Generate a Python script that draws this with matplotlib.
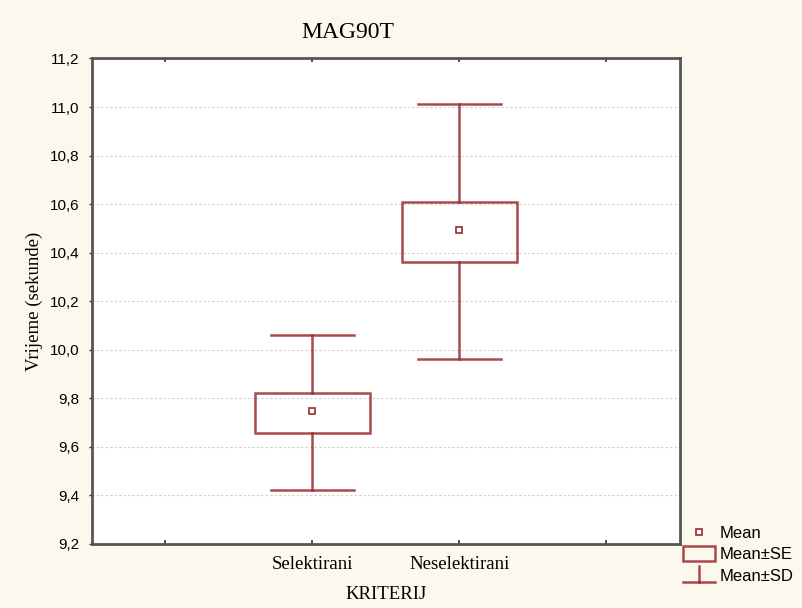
import matplotlib
matplotlib.use("Agg")
import matplotlib.pyplot as plt
from matplotlib.patches import Rectangle
from matplotlib.lines import Line2D
from matplotlib.legend_handler import HandlerBase

categories = ["Selektirani", "Neselektirani"]
means = [9.749, 10.494]
se_low = [9.659, 10.362]
se_high = [9.823, 10.609]
sd_low = [9.424, 9.963]
sd_high = [10.062, 11.013]
yticks = [9.2, 9.4, 9.6, 9.8, 10.0, 10.2, 10.4, 10.6, 10.8, 11.0, 11.2]
ytick_labels = ["9,2", "9,4", "9,6", "9,8", "10,0", "10,2", "10,4", "10,6", "10,8", "11,0", "11,2"]

RED = "#9a2a2e"
BG = "#fdf8ee"

fig = plt.figure(figsize=(8.02, 6.08), dpi=100, facecolor=BG)
ax = fig.add_axes([0.1147, 0.1053, 0.733, 0.7985])
ax.set_facecolor("white")

positions = [1, 2]
box_hw = 0.39
cap_hw = 0.28
for x, m, sl, sh, dl, dh in zip(positions, means, se_low, se_high, sd_low, sd_high):
    ax.add_patch(Rectangle((x - box_hw, sl), 2 * box_hw, sh - sl, facecolor="none",
                           edgecolor=RED, lw=1.8, alpha=0.85, zorder=3))
    ax.plot([x, x], [sh, dh], color=RED, lw=1.8, alpha=0.85, zorder=3)
    ax.plot([x, x], [dl, sl], color=RED, lw=1.8, alpha=0.85, zorder=3)
    ax.plot([x - cap_hw, x + cap_hw], [dh, dh], color=RED, lw=1.8, alpha=0.85, zorder=3)
    ax.plot([x - cap_hw, x + cap_hw], [dl, dl], color=RED, lw=1.8, alpha=0.85, zorder=3)
    ax.plot([x], [m], marker="s", ms=5, mfc="white", mec=RED, mew=1.2, ls="none", zorder=4)

ax.set_xlim(-0.5, 3.5)
ax.set_ylim(9.2, 11.2)
ax.set_yticks(yticks)
ax.set_yticklabels(ytick_labels, fontfamily="Liberation Sans", fontsize=11)
ax.set_xticks(positions)
ax.set_xticklabels(categories, fontfamily="Liberation Serif", fontsize=13.5)
ax.set_xticks([0, 3], minor=True)
ax.tick_params(axis="y", length=2, width=1, color="#333333", pad=7)
ax.tick_params(axis="x", which="both", top=True, direction="in", length=3, width=1.2,
               color="#333333", pad=9)
ax.grid(axis="y", linestyle=(0, (2, 2)), color="#d0d0d0", lw=0.8)
for s in ax.spines.values():
    s.set_linewidth(2)
    s.set_color("#555555")

fig.text(0.434, 0.947, "MAG90T", fontfamily="Liberation Serif", fontsize=17,
         ha="center", va="center")
ax.set_xlabel("KRITERIJ", fontfamily="Liberation Serif", fontsize=13.5, labelpad=9)
ax.set_ylabel("Vrijeme (sekunde)", fontfamily="Liberation Serif", fontsize=13.5, labelpad=5)


class HandlerSD(HandlerBase):
    def create_artists(self, legend, orig_handle, xdescent, ydescent, width, height, fontsize, trans):
        cx = width / 2 - xdescent
        yb = -ydescent - 1
        l1 = Line2D([cx, cx], [yb, height - ydescent + 2], color=RED, lw=1.8, alpha=0.85, transform=trans)
        l2 = Line2D([-xdescent, width - xdescent], [yb, yb], color=RED, lw=1.8, alpha=0.85, transform=trans)
        return [l1, l2]


class HandlerSE(HandlerBase):
    def create_artists(self, legend, orig_handle, xdescent, ydescent, width, height, fontsize, trans):
        r = Rectangle((-xdescent, -ydescent - 1), width, height + 2, facecolor="none",
                      edgecolor=RED, lw=1.8, alpha=0.85, transform=trans)
        return [r]


h_mean = Line2D([], [], marker="s", ms=5, mfc="white", mec=RED, mew=1.2, ls="none")
h_se = Rectangle((0, 0), 1, 1)
h_sd = Line2D([], [])
leg = fig.legend([h_mean, h_se, h_sd], ["Mean", "Mean±SE", "Mean±SD"],
                 handler_map={Rectangle: HandlerSE(), h_sd: HandlerSD()},
                 loc="upper left", bbox_to_anchor=(0.852, 0.135), frameon=False,
                 prop={"family": "Liberation Sans", "size": 12}, handlelength=1.9,
                 handletextpad=0.3, labelspacing=0.38, borderpad=0.0, borderaxespad=0.0)

fig.savefig("out.png", dpi=100, facecolor=BG)
